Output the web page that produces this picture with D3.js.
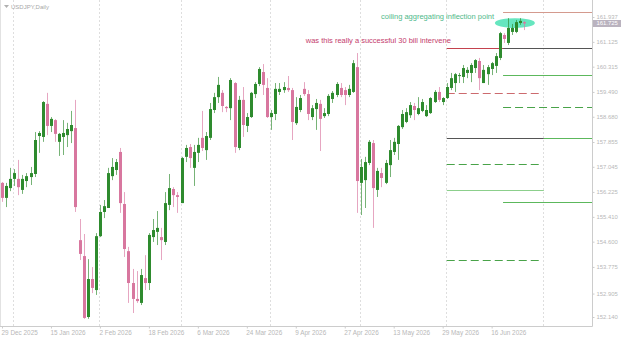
<!DOCTYPE html>
<html>
<head>
<meta charset="utf-8">
<script src="https://cdn.jsdelivr.net/npm/d3@7"></script>
<style>
  body { margin: 0; background: #fff; }
  text { font-family: "Liberation Sans", Arial, sans-serif; }
</style>
</head>
<body>
<script>
//=== Data ===
const symbol = "USDJPY,Daily"

// daily candles, bar 0 = 29 Dec 2025
const opens = [156.52,156.03,156.35,156.65,156.65,156.29,156.58,156.71,156.81,158.05,158.02,159.10,158.38,158.57,157.86,158.02,158.08,158.21,158.31,154.65,
  154.13,152.14,153.38,153.02,154.78,155.57,155.70,156.74,156.94,157.53,155.83,154.29,153.25,152.73,152.60,153.41,153.25,154.75,154.92,154.75,
  154.59,155.80,156.32,156.12,155.86,157.37,157.69,157.01,157.50,157.99,157.59,157.99,158.90,159.32,159.46,159.00,158.96,159.78,157.66,159.23,
  158.38,158.67,159.42,159.75,160.14,159.62,158.67,158.77,159.49,159.55,159.62,159.55,158.47,158.90,159.59,159.42,158.67,158.93,159.10,158.70,
  158.77,159.26,159.39,159.62,159.55,159.39,159.49,160.30,156.52,156.61,157.17,157.82,156.29,156.84,156.52,157.10,157.53,157.79,158.34,158.51,
  158.73,159.03,158.77,158.87,158.70,158.80,159.16,159.49,159.16,159.29,159.62,159.78,160.01,159.98,160.11,160.11,160.27,160.50,159.78,160.07,
  160.24,160.34,160.60,161.35,161.09,161.45,161.45,161.74,161.77]
const highs = [156.55,156.52,157.01,156.97,157.27,156.78,156.84,157.04,158.18,158.21,159.19,159.46,158.67,158.60,158.15,158.57,158.48,158.87,159.23,155.34,
  154.85,154.03,153.77,154.88,155.80,155.96,157.01,157.33,157.30,157.66,156.22,154.43,153.71,153.64,153.71,154.16,154.88,155.34,155.60,155.05,
  156.22,156.81,156.38,156.22,157.37,157.76,157.79,157.76,157.99,158.87,158.18,159.13,159.46,159.98,159.55,159.03,159.94,159.81,159.36,159.65,
  158.80,159.49,159.81,160.30,160.40,159.94,158.90,159.78,159.78,159.81,160.01,159.62,159.32,159.39,159.81,159.55,159.06,159.26,159.23,158.96,
  159.42,159.52,159.81,159.78,159.65,159.72,160.53,160.76,157.30,157.37,157.92,157.92,157.01,157.01,157.27,157.92,157.99,158.41,158.90,158.96,
  159.16,159.13,159.32,159.26,159.06,159.32,159.55,159.65,159.32,159.78,160.11,160.11,160.11,160.37,160.30,160.43,160.56,160.60,160.37,160.37,
  160.47,160.76,161.45,161.41,161.90,161.71,161.84,161.90,161.81]
const lows = [155.90,155.73,156.25,156.42,156.12,156.16,156.38,156.45,156.71,157.50,157.86,158.08,158.18,157.86,157.40,157.43,157.69,157.82,155.57,154.00,
  152.08,152.08,152.92,152.86,154.75,155.37,155.70,156.61,156.78,155.54,154.10,152.60,152.27,152.60,152.53,153.02,153.02,154.59,154.49,154.00,
  154.49,155.63,155.73,155.54,155.86,157.20,157.01,156.42,157.20,157.56,157.27,157.92,158.80,159.13,158.83,158.83,158.57,157.50,157.59,158.02,
  158.18,158.64,159.29,159.68,159.39,158.64,158.25,158.57,159.39,159.46,159.49,157.92,158.41,158.83,159.36,158.57,158.57,158.25,157.56,158.64,
  158.70,159.13,159.32,159.32,159.06,159.32,159.46,155.54,155.47,155.70,157.10,155.05,156.06,156.38,156.48,156.71,157.43,157.27,158.28,158.47,
  158.64,158.57,158.73,158.83,158.67,158.77,159.13,159.16,159.06,159.26,159.55,159.49,159.78,159.78,159.94,159.81,160.11,159.55,159.78,159.72,
  160.04,160.11,160.53,161.09,161.02,161.35,161.41,161.68,161.51]
const closes = [156.03,156.42,156.65,156.84,156.38,156.65,156.74,156.84,157.92,158.15,159.16,158.38,158.61,158.12,158.12,158.15,158.28,158.41,155.73,154.20,
  152.11,153.38,153.09,154.78,155.57,155.76,156.84,157.04,157.20,155.86,154.36,153.25,152.73,152.66,153.51,153.25,154.82,154.98,155.05,154.65,
  155.86,156.35,156.12,156.06,157.33,157.66,157.33,157.53,157.76,157.66,158.05,158.93,159.32,159.72,159.03,158.96,159.88,157.69,159.23,158.41,
  158.67,159.46,159.75,160.24,159.72,158.67,158.80,159.59,159.59,159.65,159.55,158.51,159.00,159.29,159.42,158.77,158.96,159.13,158.61,158.80,
  159.36,159.46,159.75,159.39,159.39,159.59,160.43,156.58,157.04,157.20,157.86,156.35,156.91,156.68,157.17,157.59,157.86,158.38,158.77,158.83,
  159.06,158.90,158.96,159.16,158.90,159.29,159.49,159.23,159.29,159.65,159.94,160.07,160.04,160.27,160.21,160.37,160.53,159.94,160.21,160.30,
  160.43,160.66,161.41,161.22,161.58,161.58,161.77,161.81,161.725]

const lastPrice = 161.725

// price axis labels
const priceTicks = [161.937,161.125,160.315,159.490,158.680,157.855,157.045,156.225,155.410,154.600,153.775,152.905,152.140]

// date labels (bar index + text)
const dateBars = [0,12,24,36,48,60,72,84,96,108,120]
const dateLabels = ["29 Dec 2025","15 Jan 2026","2 Feb 2026","18 Feb 2026","6 Mar 2026","24 Mar 2026","9 Apr 2026","27 Apr 2026","13 May 2026","29 May 2026","16 Jun 2026"]

// month grid lines (bar index)
const gridBars = [3,24,44,66,88,109,132.8]

// horizontal level objects: price, from bar, to bar, kind
const levels = [
  { price: 162.11, from: 122.8, to: 146, kind: "top" },
  { price: 160.94, from: 109, to: 122.8, kind: "red" },
  { price: 160.92, from: 122.8, to: 146, kind: "dark" },
  { price: 160.04, from: 122.8, to: 146, kind: "green" },
  { price: 159.45, from: 109, to: 132.2, kind: "redDash" },
  { price: 158.99, from: 122.8, to: 146, kind: "greenDash" },
  { price: 157.98, from: 109, to: 132.8, kind: "dark" },
  { price: 157.98, from: 132.8, to: 146, kind: "green" },
  { price: 157.13, from: 109, to: 132.2, kind: "greenDash" },
  { price: 156.30, from: 109, to: 132.8, kind: "greenLight" },
  { price: 155.89, from: 122.8, to: 146, kind: "green" },
  { price: 153.99, from: 109, to: 132.2, kind: "greenDash" }
]

const notes = [
  { text: "coiling aggregating inflection point", bar: 120.6, price: 161.86, kind: "green" },
  { text: "was this really a successful 30 bill intervene", bar: 110, price: 161.10, kind: "red" }
]

// ellipse drawn around the last bars: bar span and price span
const ellipseBars = [120.8, 130.6]
const ellipsePrices = [161.58, 161.90]

//=== Styles ===
const levelStyle = {
  top:        { stroke: "#d49a8e", dash: null },
  red:        { stroke: "#c4424e", dash: null },
  dark:       { stroke: "#555555", dash: null },
  green:      { stroke: "#5cb85c", dash: null },
  greenLight: { stroke: "#8ccf8c", dash: null },
  redDash:    { stroke: "#cc6a6e", dash: "8,4" },
  greenDash:  { stroke: "#49a349", dash: "8,4" }
}
const noteColor = { green: "#4fb98a", red: "#c43c6d" }
const bull = "#2e8b2e", bear = "#d8779f"
const axisColor = "#cccccc", labelColor = "#b8b8b8"

//=== Layout ===
const W = 625, H = 339
const plotRight = 592, plotBottom = 326

const svg = d3.select("body").append("svg")
    .attr("width", W)
    .attr("height", H)

const x = d3.scaleLinear()
    .domain([0, 144.6])
    .range([2, plotRight])

const y = d3.scaleLinear()
    .domain([152.140, 161.937])
    .range([317, 17])

const plot = svg.append("g")

const clip = svg.append("clipPath").attr("id", "plotclip")
clip.append("rect").attr("x", 0).attr("y", 0).attr("width", plotRight).attr("height", plotBottom)
plot.attr("clip-path", "url(#plotclip)")

// vertical grid
plot.append("g")
    .selectAll("line")
    .data(gridBars)
    .enter()
    .append("line")
    .attr("x1", d => Math.round(x(d)) - 0.5)
    .attr("x2", d => Math.round(x(d)) - 0.5)
    .attr("y1", 0)
    .attr("y2", plotBottom)
    .attr("stroke", "#dedede")
    .attr("stroke-dasharray", "2,2")

// ellipse (behind candles)
plot.append("ellipse")
    .attr("cx", (x(ellipseBars[0]) + x(ellipseBars[1])) / 2)
    .attr("cy", (y(ellipsePrices[0]) + y(ellipsePrices[1])) / 2)
    .attr("rx", (x(ellipseBars[1]) - x(ellipseBars[0])) / 2)
    .attr("ry", (y(ellipsePrices[0]) - y(ellipsePrices[1])) / 2)
    .attr("fill", "#66e6bf")

// levels
plot.append("g")
    .selectAll("line")
    .data(levels)
    .enter()
    .append("line")
    .attr("x1", d => x(d.from))
    .attr("x2", d => x(d.to))
    .attr("y1", d => Math.round(y(d.price)) + 0.5)
    .attr("y2", d => Math.round(y(d.price)) + 0.5)
    .attr("stroke", d => levelStyle[d.kind].stroke)
    .attr("stroke-dasharray", d => levelStyle[d.kind].dash)
    .attr("stroke-width", 1)

// candles
const bars = d3.range(opens.length)
const cg = plot.append("g")

cg.selectAll(".wick")
    .data(bars)
    .enter()
    .append("line")
    .attr("class", "wick")
    .attr("x1", i => Math.round(x(i)) + 0.5)
    .attr("x2", i => Math.round(x(i)) + 0.5)
    .attr("y1", i => y(highs[i]))
    .attr("y2", i => y(lows[i]))
    .attr("stroke", i => closes[i] >= opens[i] ? bull : bear)
    .attr("stroke-opacity", 0.65)

cg.selectAll(".body")
    .data(bars)
    .enter()
    .append("rect")
    .attr("class", "body")
    .attr("x", i => Math.round(x(i)) - 1)
    .attr("width", 3)
    .attr("y", i => y(Math.max(opens[i], closes[i])))
    .attr("height", i => Math.max(1, Math.abs(y(opens[i]) - y(closes[i]))))
    .attr("fill", i => closes[i] >= opens[i] ? bull : bear)

// notes
plot.append("g")
    .selectAll("text")
    .data(notes)
    .enter()
    .append("text")
    .attr("x", d => x(d.bar))
    .attr("y", d => y(d.price))
    .attr("text-anchor", "end")
    .attr("font-size", 7.5)
    .attr("fill", d => noteColor[d.kind])
    .text(d => d.text)

// frame
svg.append("line")
    .attr("x1", 0.5).attr("x2", 0.5).attr("y1", 0).attr("y2", plotBottom)
    .attr("stroke", "#e2e2e2")

// Y axis (right)
const yAxis = svg.append("g")
    .attr("transform", "translate(" + (plotRight + 0.5) + ",0)")
    .call(d3.axisRight(y).tickValues(priceTicks).tickFormat(d3.format(".3f")).tickSize(2).tickPadding(2))
yAxis.select(".domain").attr("stroke", axisColor).attr("d", "M0,0V" + (plotBottom + 0.5))
yAxis.selectAll(".tick line").attr("stroke", axisColor)
yAxis.selectAll("text").attr("fill", labelColor).attr("font-size", 5.9)
    .attr("font-family", "'Liberation Sans', Arial, sans-serif")

// current price marker
const py = y(lastPrice)
svg.append("rect")
    .attr("x", plotRight + 1)
    .attr("y", py - 3.5)
    .attr("width", 28)
    .attr("height", 7)
    .attr("fill", "#bab3bf")
svg.append("text")
    .attr("x", plotRight + 4.5)
    .attr("y", py)
    .attr("dy", "0.32em")
    .attr("font-size", 5.9)
    .attr("fill", "#ffffff")
    .text(d3.format(".3f")(lastPrice))

// X axis (bottom)
const xAxis = svg.append("g")
    .attr("transform", "translate(0," + (plotBottom + 0.5) + ")")
    .call(d3.axisBottom(x).tickValues(dateBars).tickFormat((d, i) => dateLabels[i]).tickSize(2).tickPadding(2))
xAxis.select(".domain").attr("stroke", axisColor).attr("d", "M0,0H" + (plotRight + 0.5))
xAxis.selectAll(".tick line").attr("stroke", axisColor)
xAxis.selectAll("text").attr("fill", labelColor).attr("font-size", 6.4)
    .attr("text-anchor", "start").attr("dx", -1)
    .attr("font-family", "'Liberation Sans', Arial, sans-serif")

// title
svg.append("path")
    .attr("d", "M4,5L9,5L6.5,8Z")
    .attr("fill", "#b0b0b0")
svg.append("text")
    .attr("x", 11)
    .attr("y", 9)
    .attr("font-size", 6)
    .attr("fill", "#a8a8a8")
    .text(symbol)
</script>
</body>
</html>
